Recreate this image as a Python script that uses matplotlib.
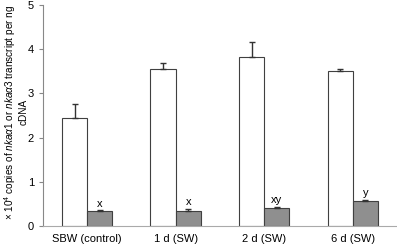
import numpy as np
import matplotlib
matplotlib.use('Agg')
import matplotlib.pyplot as plt

plt.rcParams['font.family'] = ['Liberation Sans', 'DejaVu Sans']
plt.rcParams['mathtext.fontset'] = 'custom'
plt.rcParams['mathtext.rm'] = 'Liberation Sans'
plt.rcParams['mathtext.it'] = 'Liberation Sans:italic'

groups = ['SBW (control)', '1 d (SW)', '2 d (SW)', '6 d (SW)']
nka_a1 = [2.45, 3.55, 3.83, 3.50]
nka_a1_err = [0.31, 0.13, 0.32, 0.06]
nka_a3 = [0.33, 0.33, 0.41, 0.57]
nka_a3_err = [0.02, 0.05, 0.02, 0.02]
letters = ['x', 'x', 'xy', 'y']

fig = plt.figure(figsize=(3.97, 2.44), dpi=100)
ax = fig.add_axes([0.108, 0.074, 0.892, 0.906])

x = np.arange(len(groups))
w = 0.285
ax.bar(x - w / 2, nka_a1, w, color='white', edgecolor='#404040', linewidth=0.8,
       yerr=[np.zeros(4), nka_a1_err], error_kw=dict(ecolor='#333333', elinewidth=1.0, capsize=2.5, capthick=1.0))
ax.bar(x + w / 2, nka_a3, w, color='#8f8f8f', edgecolor='#404040', linewidth=0.8,
       yerr=[np.zeros(4), nka_a3_err], error_kw=dict(ecolor='#333333', elinewidth=1.0, capsize=2.5, capthick=1.0))

for xi, v, e, t in zip(x, nka_a3, nka_a3_err, letters):
    ax.text(xi + w / 2, v + e + 0.04, t, ha='center', va='bottom', fontsize=8)

ax.set_xlim(-0.5, 3.5)
ax.set_ylim(0, 5)
ax.set_yticks([0, 1, 2, 3, 4, 5])
ax.set_xticks(x)
ax.set_xticklabels(groups, fontsize=8)
ax.tick_params(axis='y', labelsize=8, length=3, color='#888888', width=0.8)
ax.tick_params(axis='x', length=0, pad=6)
for s in ['top', 'right']:
    ax.spines[s].set_visible(False)
ax.spines['left'].set_color('#888888')
ax.spines['bottom'].set_color('#aaaaaa')

ylab = '× 10$^{4}$ copies of $\\mathit{nka\\alpha1}$ or $\\mathit{nka\\alpha3}$ transcript per ng\ncDNA'
fig.text(0.005, 0.54, ylab, rotation=90, ha='left', va='center', multialignment='center',
         fontsize=7.2, linespacing=1.1)

fig.savefig('out.png', dpi=100)
